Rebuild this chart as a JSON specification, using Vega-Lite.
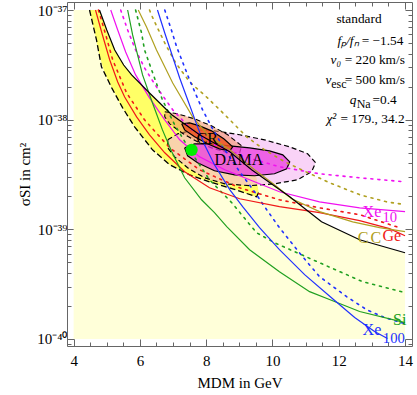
{
"$schema":"https://vega.github.io/schema/vega-lite/v6.json",
"width":345,"height":344,"autosize":"none",
"padding":{"left":67,"top":2,"right":5,"bottom":49},
"background":"white",
"config":{"view":{"stroke":null},"font":"Liberation Serif","axis":{"grid":false,"domainColor":"#666","tickColor":"#666","labelColor":"black","titleColor":"black","labelFont":"Liberation Serif","titleFont":"Liberation Serif","titleFontWeight":"normal","labelFontSize":15,"titleFontSize":15}},
"datasets":{
"pale":[{"M":4.0,"s":1e-37},{"M":4.78,"s":1e-37},{"M":5.0,"s":6.58e-38},{"M":5.24,"s":4.32e-38},{"M":5.51,"s":3.15e-38},{"M":5.75,"s":2.56e-38},{"M":6.29,"s":1.75e-38},{"M":6.96,"s":1.11e-38},{"M":7.8,"s":7.28e-39},{"M":8.71,"s":5.09e-39},{"M":9.37,"s":3.49e-39},{"M":10.52,"s":1.98e-39},{"M":11.48,"s":1.17e-39},{"M":12.63,"s":8.04e-40},{"M":14.0,"s":6.12e-40}],
"band":[{"M":4.48,"s":1e-37,"s2":1e-37},{"M":4.63,"s":6.44e-38,"s2":1e-37},{"M":4.78,"s":3.81e-38,"s2":1e-37},{"M":4.94,"s":2.67e-38,"s2":7.46e-38},{"M":5.09,"s":2.12e-38,"s2":5.56e-38},{"M":5.24,"s":1.75e-38,"s2":4.32e-38},{"M":5.39,"s":1.42e-38,"s2":3.65e-38},{"M":5.54,"s":1.2e-38,"s2":3.09e-38},{"M":5.69,"s":1.017e-38,"s2":2.7e-38},{"M":5.84,"s":8.6e-39,"s2":2.4e-38},{"M":5.99,"s":7.59e-39,"s2":2.12e-38},{"M":6.29,"s":5.77e-39,"s2":1.75e-38},{"M":6.59,"s":4.68e-39,"s2":1.42e-38},{"M":6.9,"s":3.88e-39,"s2":1.15e-38},{"M":7.2,"s":3.49e-39,"s2":9.75e-39},{"M":7.5,"s":3.14e-39,"s2":8.42e-39},{"M":7.8,"s":2.92e-39,"s2":7.28e-39},{"M":8.1,"s":2.71e-39,"s2":6.41e-39},{"M":8.4,"s":2.55e-39,"s2":5.77e-39},{"M":8.71,"s":2.39e-39,"s2":5.09e-39},{"M":9.01,"s":2.25e-39,"s2":4.31e-39},{"M":9.31,"s":2.07e-39,"s2":3.64e-39},{"M":9.52,"s":1.98e-39,"s2":2.95e-39},{"M":9.58,"s":2.2e-39,"s2":2.2e-39}],
"edge":[{"M":4.48,"s":1e-37},{"M":4.69,"s":5.33e-38},{"M":4.84,"s":3.03e-38},{"M":5.15,"s":1.95e-38},{"M":5.48,"s":1.28e-38},{"M":5.84,"s":8.6e-39},{"M":6.38,"s":5.31e-39},{"M":6.9,"s":3.88e-39},{"M":7.5,"s":3.14e-39},{"M":8.1,"s":2.71e-39},{"M":8.8,"s":2.34e-39},{"M":9.52,"s":1.98e-39},{"M":9.61,"s":2.25e-39}],
"solid":[
{"exp":"Ge","M":4.66,"s":1e-37},{"exp":"Ge","M":4.87,"s":5.92e-38},{"exp":"Ge","M":5.09,"s":3.5e-38},{"exp":"Ge","M":5.33,"s":2.21e-38},{"exp":"Ge","M":5.54,"s":1.61e-38},{"exp":"Ge","M":5.9,"s":1.06e-38},{"exp":"Ge","M":6.29,"s":7.28e-39},{"exp":"Ge","M":6.75,"s":4.99e-39},{"exp":"Ge","M":7.35,"s":3.35e-39},{"exp":"Ge","M":8.1,"s":2.39e-39},{"exp":"Ge","M":9.01,"s":1.9e-39},{"exp":"Ge","M":10.21,"s":1.61e-39},{"exp":"Ge","M":11.42,"s":1.42e-39},{"exp":"Ge","M":12.63,"s":1.2e-39},{"exp":"Ge","M":13.53,"s":1.014e-39},{"exp":"Ge","M":14.0,"s":8.75e-40},
{"exp":"Xe10","M":5.12,"s":1e-37},{"exp":"Xe10","M":5.33,"s":6.58e-38},{"exp":"Xe10","M":5.57,"s":4.14e-38},{"exp":"Xe10","M":5.87,"s":2.56e-38},{"exp":"Xe10","M":6.29,"s":1.58e-38},{"exp":"Xe10","M":6.75,"s":9.96e-39},{"exp":"Xe10","M":7.2,"s":6.55e-39},{"exp":"Xe10","M":7.8,"s":4.58e-39},{"exp":"Xe10","M":8.56,"s":3.49e-39},{"exp":"Xe10","M":9.31,"s":2.83e-39},{"exp":"Xe10","M":10.21,"s":2.2e-39},{"exp":"Xe10","M":11.42,"s":1.78e-39},{"exp":"Xe10","M":12.63,"s":1.57e-39},{"exp":"Xe10","M":14.0,"s":1.45e-39},
{"exp":"Si","M":5.63,"s":1e-37},{"exp":"Si","M":5.78,"s":5.92e-38},{"exp":"Si","M":5.93,"s":3.89e-38},{"exp":"Si","M":6.08,"s":2.56e-38},{"exp":"Si","M":6.38,"s":1.42e-38},{"exp":"Si","M":6.68,"s":8.07e-39},{"exp":"Si","M":6.96,"s":5.09e-39},{"exp":"Si","M":7.35,"s":2.95e-39},{"exp":"Si","M":7.86,"s":1.86e-39},{"exp":"Si","M":8.25,"s":1.42e-39},{"exp":"Si","M":8.62,"s":1.06e-39},{"exp":"Si","M":9.31,"s":6.52e-40},{"exp":"Si","M":10.21,"s":4.11e-40},{"exp":"Si","M":11.12,"s":2.7e-40},{"exp":"Si","M":11.72,"s":2.29e-40},{"exp":"Si","M":12.63,"s":1.78e-40},{"exp":"Si","M":14.0,"s":1.41e-40},
{"exp":"C","M":5.95,"s":1e-37},{"exp":"C","M":6.2,"s":7.0e-38},{"exp":"C","M":6.5,"s":4.32e-38},{"exp":"C","M":6.99,"s":2.16e-38},{"exp":"C","M":7.59,"s":1.06e-38},{"exp":"C","M":8.1,"s":6.98e-39},{"exp":"C","M":8.71,"s":5.31e-39},{"exp":"C","M":9.46,"s":3.49e-39},{"exp":"C","M":10.06,"s":2.55e-39},{"exp":"C","M":10.58,"s":1.9e-39},{"exp":"C","M":11.42,"s":1.45e-39},{"exp":"C","M":12.42,"s":1.17e-39},{"exp":"C","M":13.23,"s":1.035e-39},{"exp":"C","M":14.0,"s":9.51e-40},
{"exp":"Xe100","M":6.53,"s":1e-37},{"exp":"Xe100","M":6.75,"s":6.17e-38},{"exp":"Xe100","M":6.99,"s":3.73e-38},{"exp":"Xe100","M":7.2,"s":2.4e-38},{"exp":"Xe100","M":7.41,"s":1.61e-38},{"exp":"Xe100","M":7.74,"s":8.6e-39},{"exp":"Xe100","M":7.95,"s":5.9e-39},{"exp":"Xe100","M":8.25,"s":3.88e-39},{"exp":"Xe100","M":8.71,"s":2.3e-39},{"exp":"Xe100","M":9.1,"s":1.61e-39},{"exp":"Xe100","M":9.61,"s":1.035e-39},{"exp":"Xe100","M":10.21,"s":6.52e-40},{"exp":"Xe100","M":10.97,"s":3.86e-40},{"exp":"Xe100","M":11.78,"s":2.38e-40},{"exp":"Xe100","M":12.48,"s":1.57e-40},{"exp":"Xe100","M":13.08,"s":1.17e-40},{"exp":"Xe100","M":13.47,"s":1.01e-40},
{"exp":"CoGeNT","M":4.78,"s":1e-37},{"exp":"CoGeNT","M":5.0,"s":6.58e-38},{"exp":"CoGeNT","M":5.24,"s":4.32e-38},{"exp":"CoGeNT","M":5.51,"s":3.15e-38},{"exp":"CoGeNT","M":5.75,"s":2.56e-38},{"exp":"CoGeNT","M":6.29,"s":1.75e-38},{"exp":"CoGeNT","M":6.96,"s":1.11e-38},{"exp":"CoGeNT","M":7.8,"s":7.28e-39},{"exp":"CoGeNT","M":8.71,"s":5.09e-39},{"exp":"CoGeNT","M":9.37,"s":3.49e-39},{"exp":"CoGeNT","M":10.52,"s":1.98e-39},{"exp":"CoGeNT","M":11.48,"s":1.17e-39},{"exp":"CoGeNT","M":12.63,"s":8.04e-40},{"exp":"CoGeNT","M":14.0,"s":6.12e-40}],
"dotted":[
{"exp":"Ge","M":4.75,"s":1e-37},{"exp":"Ge","M":4.97,"s":5.92e-38},{"exp":"Ge","M":5.18,"s":3.5e-38},{"exp":"Ge","M":5.6,"s":1.75e-38},{"exp":"Ge","M":6.14,"s":9.96e-39},{"exp":"Ge","M":6.9,"s":5.53e-39},{"exp":"Ge","M":7.8,"s":3.49e-39},{"exp":"Ge","M":9.01,"s":2.39e-39},{"exp":"Ge","M":10.21,"s":1.86e-39},{"exp":"Ge","M":11.42,"s":1.57e-39},{"exp":"Ge","M":12.63,"s":1.36e-39},{"exp":"Ge","M":13.83,"s":1.035e-39},
{"exp":"Xe10","M":5.42,"s":1e-37},{"exp":"Xe10","M":5.63,"s":6.58e-38},{"exp":"Xe10","M":5.87,"s":4.32e-38},{"exp":"Xe10","M":6.14,"s":2.96e-38},{"exp":"Xe10","M":6.5,"s":1.99e-38},{"exp":"Xe10","M":6.99,"s":1.23e-38},{"exp":"Xe10","M":7.5,"s":8.42e-39},{"exp":"Xe10","M":8.25,"s":5.9e-39},{"exp":"Xe10","M":9.16,"s":4.58e-39},{"exp":"Xe10","M":10.21,"s":3.72e-39},{"exp":"Xe10","M":11.42,"s":3.21e-39},{"exp":"Xe10","M":12.63,"s":2.95e-39},{"exp":"Xe10","M":14.0,"s":2.71e-39},
{"exp":"Si","M":5.87,"s":1e-37},{"exp":"Si","M":6.05,"s":6.17e-38},{"exp":"Si","M":6.14,"s":4.32e-38},{"exp":"Si","M":6.44,"s":2.4e-38},{"exp":"Si","M":6.68,"s":1.515e-38},{"exp":"Si","M":7.05,"s":8.97e-39},{"exp":"Si","M":7.5,"s":5.31e-39},{"exp":"Si","M":8.1,"s":2.83e-39},{"exp":"Si","M":8.77,"s":1.75e-39},{"exp":"Si","M":9.52,"s":9.31e-40},{"exp":"Si","M":10.06,"s":7.55e-40},{"exp":"Si","M":11.21,"s":5.29e-40},{"exp":"Si","M":12.72,"s":3.33e-40},{"exp":"Si","M":14.0,"s":2.65e-40},
{"exp":"C","M":6.29,"s":1e-37},{"exp":"C","M":6.35,"s":9.0e-38},{"exp":"C","M":6.53,"s":6.86e-38},{"exp":"C","M":6.78,"s":4.8e-38},{"exp":"C","M":7.08,"s":3.29e-38},{"exp":"C","M":7.5,"s":2.21e-38},{"exp":"C","M":8.01,"s":1.61e-38},{"exp":"C","M":8.56,"s":1.11e-38},{"exp":"C","M":9.22,"s":6.98e-39},{"exp":"C","M":9.76,"s":5.31e-39},{"exp":"C","M":10.37,"s":4.13e-39},{"exp":"C","M":10.88,"s":3.49e-39},{"exp":"C","M":11.72,"s":2.66e-39},{"exp":"C","M":12.63,"s":2.07e-39},{"exp":"C","M":13.44,"s":1.78e-39},{"exp":"C","M":14.0,"s":1.68e-39},
{"exp":"Xe100","M":6.75,"s":1e-37},{"exp":"Xe100","M":6.93,"s":6.86e-38},{"exp":"Xe100","M":7.11,"s":4.6e-38},{"exp":"Xe100","M":7.5,"s":2.3e-38},{"exp":"Xe100","M":7.89,"s":1.23e-38},{"exp":"Xe100","M":8.16,"s":8.6e-39},{"exp":"Xe100","M":8.56,"s":5.31e-39},{"exp":"Xe100","M":9.01,"s":3.35e-39},{"exp":"Xe100","M":9.46,"s":2.2e-39},{"exp":"Xe100","M":9.76,"s":1.61e-39},{"exp":"Xe100","M":10.21,"s":1.035e-39},{"exp":"Xe100","M":10.91,"s":5.63e-40},{"exp":"Xe100","M":11.42,"s":3.7e-40},{"exp":"Xe100","M":12.24,"s":2.43e-40},{"exp":"Xe100","M":12.84,"s":1.85e-40},{"exp":"Xe100","M":13.38,"s":1.57e-40},{"exp":"Xe100","M":14.0,"s":1.38e-40}],
"regions":[
{"region":"do","i":0,"M":6.84,"s":6.55e-39},{"region":"do","i":1,"M":7.14,"s":7.43e-39},{"region":"do","i":2,"M":7.65,"s":8.07e-39},{"region":"do","i":3,"M":8.25,"s":7.91e-39},{"region":"do","i":4,"M":9.01,"s":7.28e-39},{"region":"do","i":5,"M":9.76,"s":6.55e-39},{"region":"do","i":6,"M":10.52,"s":5.65e-39},{"region":"do","i":7,"M":11.06,"s":4.89e-39},{"region":"do","i":8,"M":11.3,"s":4.05e-39},{"region":"do","i":9,"M":11.18,"s":3.35e-39},{"region":"do","i":10,"M":10.76,"s":2.83e-39},{"region":"do","i":11,"M":10.06,"s":2.6e-39},{"region":"do","i":12,"M":9.31,"s":2.5e-39},{"region":"do","i":13,"M":8.56,"s":2.6e-39},{"region":"do","i":14,"M":7.95,"s":2.95e-39},{"region":"do","i":15,"M":7.44,"s":3.64e-39},{"region":"do","i":16,"M":7.05,"s":4.58e-39},{"region":"do","i":17,"M":6.84,"s":5.53e-39},{"region":"do","i":18,"M":6.84,"s":6.55e-39},
{"region":"di","i":0,"M":7.35,"s":5.53e-39},{"region":"di","i":1,"M":7.65,"s":6.02e-39},{"region":"di","i":2,"M":8.1,"s":6.02e-39},{"region":"di","i":3,"M":8.71,"s":5.77e-39},{"region":"di","i":4,"M":9.31,"s":5.53e-39},{"region":"di","i":5,"M":9.91,"s":5.2e-39},{"region":"di","i":6,"M":10.31,"s":4.78e-39},{"region":"di","i":7,"M":10.52,"s":4.13e-39},{"region":"di","i":8,"M":10.43,"s":3.56e-39},{"region":"di","i":9,"M":10.06,"s":3.21e-39},{"region":"di","i":10,"M":9.46,"s":3.08e-39},{"region":"di","i":11,"M":8.86,"s":3.14e-39},{"region":"di","i":12,"M":8.25,"s":3.42e-39},{"region":"di","i":13,"M":7.74,"s":4.05e-39},{"region":"di","i":14,"M":7.44,"s":4.68e-39},{"region":"di","i":15,"M":7.35,"s":5.53e-39},
{"region":"co","i":0,"M":6.75,"s":1.18e-38},{"region":"co","i":1,"M":7.14,"s":1.13e-38},{"region":"co","i":2,"M":7.65,"s":1.017e-38},{"region":"co","i":3,"M":8.16,"s":8.78e-39},{"region":"co","i":4,"M":8.65,"s":7.28e-39},{"region":"co","i":5,"M":9.07,"s":5.77e-39},{"region":"co","i":6,"M":9.01,"s":4.99e-39},{"region":"co","i":7,"M":8.65,"s":4.99e-39},{"region":"co","i":8,"M":8.16,"s":5.53e-39},{"region":"co","i":9,"M":7.68,"s":6.41e-39},{"region":"co","i":10,"M":7.26,"s":7.59e-39},{"region":"co","i":11,"M":6.9,"s":9.16e-39},{"region":"co","i":12,"M":6.75,"s":1.06e-38},{"region":"co","i":13,"M":6.75,"s":1.18e-38},
{"region":"ci","i":0,"M":7.26,"s":9.16e-39},{"region":"ci","i":1,"M":7.5,"s":9.35e-39},{"region":"ci","i":2,"M":7.8,"s":8.78e-39},{"region":"ci","i":3,"M":8.16,"s":7.91e-39},{"region":"ci","i":4,"M":8.53,"s":6.69e-39},{"region":"ci","i":5,"M":8.8,"s":5.65e-39},{"region":"ci","i":6,"M":8.71,"s":5.2e-39},{"region":"ci","i":7,"M":8.4,"s":5.42e-39},{"region":"ci","i":8,"M":8.04,"s":6.02e-39},{"region":"ci","i":9,"M":7.65,"s":6.98e-39},{"region":"ci","i":10,"M":7.35,"s":8.07e-39},{"region":"ci","i":11,"M":7.26,"s":9.16e-39}],
"dot":[{"M":7.56,"s":5.31e-39}],
"labels":[
{"text":"CR","M":7.71,"s":6.69e-39,"kind":"label","exp":"text","style":"n"},
{"text":"DAMA","M":8.25,"s":4.31e-39,"kind":"label","exp":"text","style":"n"},
{"text":"Xe","M":12.72,"s":1.45e-39,"kind":"label","exp":"Xe10","style":"n"},
{"text":"10","M":13.32,"s":1.28e-39,"kind":"sub","exp":"Xe10","style":"n"},
{"text":"Xe","M":12.72,"s":1.22e-40,"kind":"label","exp":"Xe100","style":"n"},
{"text":"100","M":13.33,"s":9.9e-41,"kind":"sub","exp":"Xe100","style":"n"},
{"text":"Si","M":13.64,"s":1.5e-40,"kind":"label","exp":"Si","style":"n"},
{"text":"C","M":12.57,"s":8.39e-40,"kind":"label","exp":"C","style":"n"},
{"text":"C","M":12.96,"s":8.39e-40,"kind":"label","exp":"C","style":"n"},
{"text":"Ge","M":13.32,"s":8.75e-40,"kind":"label","exp":"Ge","style":"n"},
{"text":"standard","M":11.93,"s":8.28e-38,"kind":"legend","exp":"text","style":"n"},
{"text":"fₚ/fₙ","M":11.96,"s":5.22e-38,"kind":"legend","exp":"text","style":"i"},
{"text":"= −1.54","M":12.69,"s":5.22e-38,"kind":"legend","exp":"text","style":"n"},
{"text":"v₀","M":11.75,"s":3.5e-38,"kind":"legend","exp":"text","style":"i"},
{"text":"= 220 km/s","M":12.18,"s":3.5e-38,"kind":"legend","exp":"text","style":"n"},
{"text":"v","M":11.6,"s":2.3e-38,"kind":"legend","exp":"text","style":"i"},
{"text":"esc","M":11.77,"s":2.12e-38,"kind":"legsub","exp":"text","style":"n"},
{"text":"= 500 km/s","M":12.18,"s":2.3e-38,"kind":"legend","exp":"text","style":"n"},
{"text":"q","M":12.33,"s":1.515e-38,"kind":"legend","exp":"text","style":"i"},
{"text":"Na","M":12.54,"s":1.39e-38,"kind":"legsub","exp":"text","style":"n"},
{"text":"=0.4","M":13.02,"s":1.515e-38,"kind":"legend","exp":"text","style":"n"},
{"text":"χ²","M":11.63,"s":1.017e-38,"kind":"legend","exp":"text","style":"i"},
{"text":"= 179., 34.2","M":12.05,"s":1.017e-38,"kind":"legend","exp":"text","style":"n"}]
},
"layer":[
{"data":{"name":"pale"},"mark":{"type":"area","color":"#FFFFD9","clip":true},
 "encoding":{"x":{"field":"M","type":"quantitative","scale":{"domain":[3.8,14.21],"nice":false,"zero":false},
   "axis":{"orient":"bottom","values":[4,6,8,10,12,14],"tickSize":-7,"labelPadding":14,"title":"MDM in GeV","titlePadding":7}},
  "y":{"field":"s","type":"quantitative","scale":{"type":"log","domain":[8.63e-41,1.183e-37],"nice":false},
   "axis":{"orient":"left","values":[1e-40,1e-39,1e-38,1e-37],"tickSize":-7,"labelPadding":7,"labelExpr":"round(log(datum.value)/LN10)==-37?'10⁻³⁷':round(log(datum.value)/LN10)==-38?'10⁻³⁸':round(log(datum.value)/LN10)==-39?'10⁻³⁹':'10⁻⁴⁰'","title":"σSI in cm²","titlePadding":4}},
  "y2":{"datum":1e-40}}},
{"data":{"name":"band"},"mark":{"type":"area","color":"#FFFF66","clip":true},
 "encoding":{"x":{"field":"M","type":"quantitative","scale":{"domain":[3.8,14.21],"nice":false,"zero":false},
   "axis":{"orient":"bottom","values":[4.5,5,5.5,6.5,7,7.5,8.5,9,9.5,10.5,11,11.5,12.5,13,13.5],"tickSize":-4,"labels":false,"domain":false,"title":null}},
  "y":{"field":"s","type":"quantitative","scale":{"type":"log","domain":[8.63e-41,1.183e-37],"nice":false},
   "axis":{"orient":"left","values":[9e-41,2e-40,3e-40,4e-40,5e-40,6e-40,7e-40,8e-40,9e-40,2e-39,3e-39,4e-39,5e-39,6e-39,7e-39,8e-39,9e-39,2e-38,3e-38,4e-38,5e-38,6e-38,7e-38,8e-38,9e-38],"tickSize":-4,"labels":false,"domain":false,"title":null}},
  "y2":{"field":"s2"}}},
{"data":{"name":"regions"},"transform":[{"filter":"datum.region=='do'"}],
 "mark":{"type":"line","fill":"#F4A8F0","fillOpacity":0.5,"stroke":"black","strokeWidth":1.2,"strokeDash":[5,3],"clip":true},
 "encoding":{"x":{"field":"M","type":"quantitative","scale":{"domain":[3.8,14.21],"nice":false,"zero":false},"axis":null},
  "y":{"field":"s","type":"quantitative","scale":{"type":"log","domain":[8.63e-41,1.183e-37],"nice":false},"axis":null},"order":{"field":"i"}}},
{"data":{"name":"regions"},"transform":[{"filter":"datum.region=='co'"}],
 "mark":{"type":"line","fill":"#F49060","fillOpacity":0.55,"stroke":"black","strokeWidth":1.1,"strokeDash":[5,3],"clip":true},
 "encoding":{"x":{"field":"M","type":"quantitative","scale":{"domain":[3.8,14.21],"nice":false,"zero":false},"axis":null},
  "y":{"field":"s","type":"quantitative","scale":{"type":"log","domain":[8.63e-41,1.183e-37],"nice":false},"axis":null},"order":{"field":"i"}}},
{"data":{"name":"regions"},"transform":[{"filter":"datum.region=='di'"}],
 "mark":{"type":"line","fill":"#EA3CE0","fillOpacity":0.75,"stroke":"black","strokeWidth":1.2,"clip":true},
 "encoding":{"x":{"field":"M","type":"quantitative","scale":{"domain":[3.8,14.21],"nice":false,"zero":false},"axis":null},
  "y":{"field":"s","type":"quantitative","scale":{"type":"log","domain":[8.63e-41,1.183e-37],"nice":false},"axis":null},"order":{"field":"i"}}},
{"data":{"name":"regions"},"transform":[{"filter":"datum.region=='ci'"}],
 "mark":{"type":"line","fill":"#EE5522","fillOpacity":0.85,"stroke":"black","strokeWidth":1.2,"clip":true},
 "encoding":{"x":{"field":"M","type":"quantitative","scale":{"domain":[3.8,14.21],"nice":false,"zero":false},"axis":null},
  "y":{"field":"s","type":"quantitative","scale":{"type":"log","domain":[8.63e-41,1.183e-37],"nice":false},"axis":null},"order":{"field":"i"}}},
{"data":{"name":"edge"},"mark":{"type":"line","color":"black","strokeWidth":1.3,"strokeDash":[6,3],"clip":true},
 "encoding":{"x":{"field":"M","type":"quantitative","scale":{"domain":[3.8,14.21],"nice":false,"zero":false},"axis":null},
  "y":{"field":"s","type":"quantitative","scale":{"type":"log","domain":[8.63e-41,1.183e-37],"nice":false},"axis":null}}},
{"data":{"name":"dotted"},"mark":{"type":"line","strokeWidth":1.6,"strokeDash":[2,5],"strokeCap":"round","clip":true},
 "encoding":{"x":{"field":"M","type":"quantitative","scale":{"domain":[3.8,14.21],"nice":false,"zero":false},
   "axis":{"orient":"top","values":[4.5,5,5.5,6.5,7,7.5,8.5,9,9.5,10.5,11,11.5,12.5,13,13.5],"tickSize":-4,"labels":false,"domain":false,"title":null}},
  "y":{"field":"s","type":"quantitative","scale":{"type":"log","domain":[8.63e-41,1.183e-37],"nice":false},
   "axis":{"orient":"right","values":[9e-41,2e-40,3e-40,4e-40,5e-40,6e-40,7e-40,8e-40,9e-40,2e-39,3e-39,4e-39,5e-39,6e-39,7e-39,8e-39,9e-39,2e-38,3e-38,4e-38,5e-38,6e-38,7e-38,8e-38,9e-38],"tickSize":-4,"labels":false,"domain":false,"title":null}},
  "color":{"field":"exp","type":"nominal","scale":{"domain":["Ge","Xe10","Si","C","Xe100","CoGeNT","text"],"range":["#F01818","#F010F0","#20A020","#B0A020","#2030FF","#000000","#000000"]},"legend":null}}},
{"data":{"name":"solid"},"mark":{"type":"line","strokeWidth":1.2,"clip":true},
 "encoding":{"x":{"field":"M","type":"quantitative","scale":{"domain":[3.8,14.21],"nice":false,"zero":false},
   "axis":{"orient":"top","values":[4,6,8,10,12,14],"tickSize":-7,"labels":false,"title":null}},
  "y":{"field":"s","type":"quantitative","scale":{"type":"log","domain":[8.63e-41,1.183e-37],"nice":false},
   "axis":{"orient":"right","values":[1e-40,1e-39,1e-38,1e-37],"tickSize":-7,"labels":false,"title":null}},
  "color":{"field":"exp","type":"nominal","scale":{"domain":["Ge","Xe10","Si","C","Xe100","CoGeNT","text"],"range":["#F01818","#F010F0","#20A020","#B0A020","#2030FF","#000000","#000000"]},"legend":null}}},
{"data":{"name":"dot"},"mark":{"type":"point","filled":true,"color":"#00EE00","opacity":1,"size":150},
 "encoding":{"x":{"field":"M","type":"quantitative","scale":{"domain":[3.8,14.21],"nice":false,"zero":false},"axis":null},
  "y":{"field":"s","type":"quantitative","scale":{"type":"log","domain":[8.63e-41,1.183e-37],"nice":false},"axis":null}}},
{"data":{"name":"labels"},"transform":[{"filter":"datum.style=='n'"}],"mark":{"type":"text","align":"left","baseline":"middle","font":"Liberation Serif"},
 "encoding":{"x":{"field":"M","type":"quantitative","scale":{"domain":[3.8,14.21],"nice":false,"zero":false},"axis":null},
  "y":{"field":"s","type":"quantitative","scale":{"type":"log","domain":[8.63e-41,1.183e-37],"nice":false},"axis":null},
  "text":{"field":"text"},
  "size":{"field":"kind","type":"nominal","scale":{"domain":["label","sub","legend","legsub"],"range":[16,12,13,9]},"legend":null},
  "color":{"field":"exp","type":"nominal","scale":{"domain":["Ge","Xe10","Si","C","Xe100","CoGeNT","text"],"range":["#F01818","#F010F0","#20A020","#B0A020","#2030FF","#000000","#000000"]},"legend":null}}},
{"data":{"name":"labels"},"transform":[{"filter":"datum.style=='i'"}],"mark":{"type":"text","align":"left","baseline":"middle","font":"Liberation Serif","fontStyle":"italic"},
 "encoding":{"x":{"field":"M","type":"quantitative","scale":{"domain":[3.8,14.21],"nice":false,"zero":false},"axis":null},
  "y":{"field":"s","type":"quantitative","scale":{"type":"log","domain":[8.63e-41,1.183e-37],"nice":false},"axis":null},
  "text":{"field":"text"},
  "size":{"field":"kind","type":"nominal","scale":{"domain":["label","sub","legend","legsub"],"range":[16,12,13,9]},"legend":null},
  "color":{"field":"exp","type":"nominal","scale":{"domain":["Ge","Xe10","Si","C","Xe100","CoGeNT","text"],"range":["#F01818","#F010F0","#20A020","#B0A020","#2030FF","#000000","#000000"]},"legend":null}}}
],
"resolve":{"axis":{"x":"independent","y":"independent"}}
}
